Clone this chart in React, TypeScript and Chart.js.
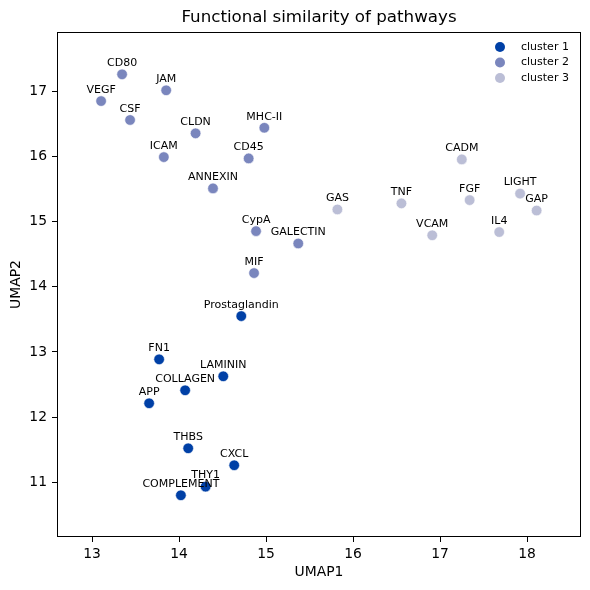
import React, { useEffect, useRef } from "react";
import { Chart, registerables } from "chart.js";

Chart.register(...registerables);

const clusterNames = ["cluster 1", "cluster 2", "cluster 3"];
const clusterColors = ["#0040a6", "#7a86bd", "#bbbed6"];

const c1Labels = ["Prostaglandin", "FN1", "LAMININ", "COLLAGEN", "APP", "THBS", "CXCL", "THY1", "COMPLEMENT"];
const c1X = [14.715, 13.771, 14.508, 14.07, 13.656, 14.105, 14.634, 14.305, 14.021];
const c1Y = [13.55, 12.886, 12.626, 12.411, 12.212, 11.521, 11.261, 10.933, 10.8];

const c2Labels = ["CD80", "JAM", "VEGF", "CSF", "CLDN", "MHC-II", "ICAM", "CD45", "ANNEXIN", "CypA", "GALECTIN", "MIF"];
const c2X = [13.345, 13.852, 13.104, 13.437, 14.19, 14.98, 13.825, 14.8, 14.39, 14.885, 15.37, 14.862];
const c2Y = [17.26, 17.015, 16.85, 16.56, 16.355, 16.44, 15.99, 15.97, 15.51, 14.854, 14.665, 14.21];

const c3Labels = ["GAS", "TNF", "CADM", "FGF", "LIGHT", "GAP", "VCAM", "IL4"];
const c3X = [15.82, 16.556, 17.25, 17.34, 17.92, 18.11, 16.91, 17.68];
const c3Y = [15.187, 15.28, 15.955, 15.33, 15.43, 15.17, 14.79, 14.84];

const xTicks = [13, 14, 15, 16, 17, 18];
const yTicks = [11, 12, 13, 14, 15, 16, 17];
const xRange = [12.597, 18.62];
const yRange = [10.16, 17.91];

const titleText = "Functional similarity of pathways";
const xTitle = "UMAP1";
const yTitle = "UMAP2";

const FONT = "DejaVu Sans";

function pts(xs: number[], ys: number[], labels: string[]) {
  return xs.map((x, i) => ({ x, y: ys[i], label: labels[i] }));
}

const overlayPlugin = {
  id: "overlay",
  afterDatasetsDraw(chart: any) {
    const ctx = chart.ctx;
    const area = chart.chartArea;
    ctx.save();
    ctx.font = `11px "${FONT}"`;
    ctx.fillStyle = "#000";
    ctx.textAlign = "center";
    ctx.textBaseline = "middle";
    chart.data.datasets.forEach((ds: any, di: number) => {
      const meta = chart.getDatasetMeta(di);
      meta.data.forEach((el: any, i: number) => {
        ctx.fillText(ds.data[i].label, el.x, el.y - 11);
      });
    });
    // box
    const l = Math.round(area.left), r = Math.round(area.right);
    const t = Math.round(area.top), b = Math.round(area.bottom);
    ctx.fillStyle = "#000";
    ctx.fillRect(l, t, r - l, 1);
    ctx.fillRect(l, b - 1, r - l, 1);
    ctx.fillRect(l, t, 1, b - t);
    ctx.fillRect(r - 1, t, 1, b - t);
    // title
    ctx.font = `16.7px "${FONT}"`;
    ctx.textAlign = "center";
    ctx.textBaseline = "middle";
    ctx.fillText(titleText, (area.left + area.right) / 2, 18);
    // legend
    ctx.font = `11px "${FONT}"`;
    ctx.textAlign = "left";
    clusterNames.forEach((name, i) => {
      const y = 47 + i * 15.5;
      ctx.beginPath();
      ctx.arc(500, y, 5, 0, Math.PI * 2);
      ctx.fillStyle = clusterColors[i];
      ctx.fill();
      ctx.fillStyle = "#000";
      ctx.fillText(name, 521, y);
    });
    ctx.restore();
  },
};

export default function App() {
  const ref = useRef<HTMLCanvasElement>(null);
  useEffect(() => {
    document.body.style.margin = "0";
    const mk = (i: number, data: any[]) => ({
      label: clusterNames[i],
      data,
      backgroundColor: clusterColors[i],
      borderColor: "#ffffff",
      borderWidth: 0.6,
      pointRadius: 5.3,
    });
    const chart = new Chart(ref.current!, {
      type: "scatter",
      data: {
        datasets: [
          mk(0, pts(c1X, c1Y, c1Labels)),
          mk(1, pts(c2X, c2Y, c2Labels)),
          mk(2, pts(c3X, c3Y, c3Labels)),
        ],
      },
      options: {
        animation: false,
        responsive: false,
        devicePixelRatio: 1,
        layout: { padding: { top: 32, right: 9, left: 0, bottom: 0 } },
        plugins: { legend: { display: false }, tooltip: { enabled: false }, title: { display: false } },
        scales: {
          x: {
            type: "linear",
            min: xRange[0],
            max: xRange[1],
            afterBuildTicks: (s: any) => { s.ticks = xTicks.map((v) => ({ value: v })); },
            afterFit: (s: any) => { s.height = 53; },
            grid: { drawOnChartArea: false, drawTicks: true, tickLength: 5, color: "#000" },
            border: { display: false },
            ticks: { color: "#000", font: { family: FONT, size: 13.9 }, padding: 4 },
            title: { display: true, text: xTitle, color: "#000", font: { family: FONT, size: 13.9 }, padding: { top: 0, bottom: 9 } },
          },
          y: {
            type: "linear",
            min: yRange[0],
            max: yRange[1],
            afterBuildTicks: (s: any) => { s.ticks = yTicks.map((v) => ({ value: v })); },
            afterFit: (s: any) => { s.width = 57; },
            grid: { drawOnChartArea: false, drawTicks: true, tickLength: 5, color: "#000" },
            border: { display: false },
            ticks: { color: "#000", font: { family: FONT, size: 13.9 }, padding: 5 },
            title: { display: true, text: yTitle, color: "#000", font: { family: FONT, size: 13.9 }, padding: { top: 8, bottom: 0 } },
          },
        },
      },
      plugins: [overlayPlugin],
    });
    return () => chart.destroy();
  }, []);
  return (
    <div style={{ width: 590, height: 590 }}>
      <canvas ref={ref} width={590} height={590} style={{ width: 590, height: 590, display: "block" }} />
    </div>
  );
}
